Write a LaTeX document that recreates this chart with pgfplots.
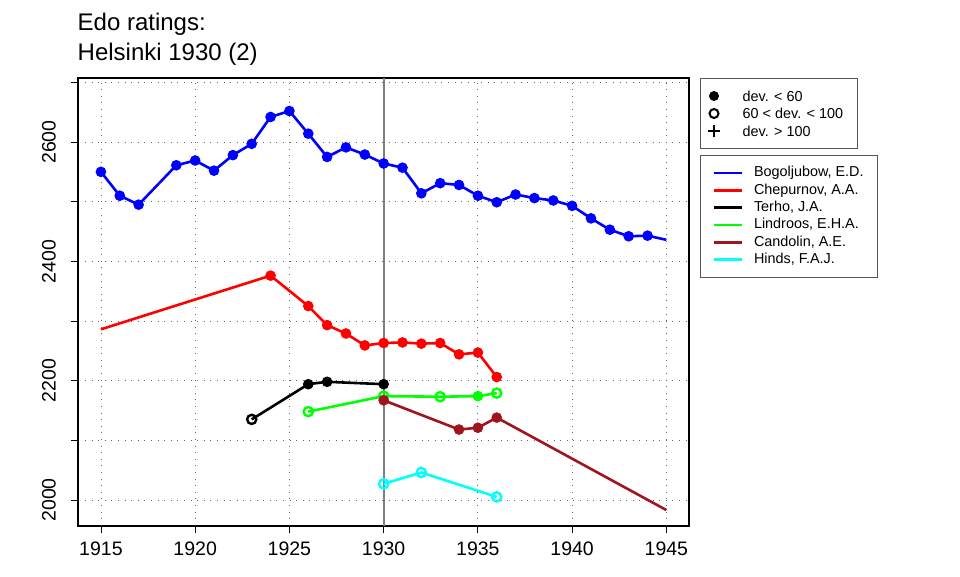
\documentclass[border=0pt]{standalone}
\usepackage{fontspec}
\setmainfont{Liberation Sans}
\usepackage{pgfplots}
\pgfplotsset{compat=1.18}
\definecolor{candolin}{RGB}{160,20,30}
\definecolor{legframe}{RGB}{85,85,85}
\definecolor{pblue}{RGB}{0,0,255}
\definecolor{pred}{RGB}{255,0,0}
\definecolor{pgreen}{RGB}{0,255,0}
\definecolor{pcyan}{RGB}{0,255,255}
\pgfplotsset{
  fullmark/.style={only marks, mark=*, mark size=4.7pt, forget plot, mark options={line width=1.2pt}},
  ringmark/.style={only marks, mark=o, mark size=4.6pt, line width=2.4pt, forget plot, mark options={solid, line width=2.4pt}},
}
\begin{document}
\begin{tikzpicture}
\useasboundingbox (0pt,0pt) rectangle (960pt,576pt);
\begin{axis}[
  at={(78.3pt,50.2pt)}, anchor=south west,
  scale only axis, width=610.7pt, height=447.6pt,
  xmin=1913.8, xmax=1946.2, ymin=1956.6, ymax=2707,
  xtick={1915,1920,1925,1930,1935,1940,1945},
  xticklabels={1915,1920,1925,1930,1935,1940,1945},
  ytick={2000,2100,2200,2300,2400,2500,2600,2700},
  yticklabels={2000,,2200,,2400,,2600,},
  ticklabel style={font=\fontsize{19.5}{22}\selectfont},
  yticklabel style={rotate=90, anchor=south},
  xticklabel shift=6pt,
  yticklabel shift=12pt,
  tick align=outside, tick pos=left, major tick length=7pt,
  axis line style={line width=2pt},
  every tick/.style={black, line width=0.8pt},
  grid=major,
  major grid style={black!60, dash pattern=on 1pt off 5.6pt, line width=0.8pt},
  legend cell align=left,
  legend image code/.code={\draw[#1, line width=2.6pt] (0pt,0pt) -- (28pt,0pt);},
  legend style={at={(1.018,0.8284)}, anchor=north west, draw=legframe, line width=0.8pt,
    font=\fontsize{14.4}{17}\selectfont, inner xsep=12pt, inner ysep=9pt, row sep=0pt,
    nodes={text height=10.5pt, text depth=3pt, inner ysep=1.9pt},
    /tikz/every odd column/.append style={column sep=9pt}},
  every axis plot/.append style={line width=2.6pt},
]
% vertical marker line at 1930
\addplot[gray, line width=2pt, forget plot] coordinates {(1930,1900) (1930,2800)};

% Bogoljubow
\addplot[pblue] coordinates {
(1915,2550) (1916,2510) (1917,2495) (1919,2561) (1920,2569) (1921,2552) (1922,2578)
(1923,2597) (1924,2642) (1925,2652) (1926,2614) (1927,2575) (1928,2591) (1929,2579)
(1930,2564) (1931,2557) (1932,2514) (1933,2531) (1934,2528) (1935,2510) (1936,2499)
(1937,2512) (1938,2506) (1939,2502) (1940,2493) (1941,2472) (1942,2453) (1943,2442)
(1944,2443) (1945,2436)};
\addlegendentry{Bogoljubow, E.D.}
\addplot[pblue, fullmark] coordinates {
(1915,2550) (1916,2510) (1917,2495) (1919,2561) (1920,2569) (1921,2552) (1922,2578)
(1923,2597) (1924,2642) (1925,2652) (1926,2614) (1927,2575) (1928,2591) (1929,2579)
(1930,2564) (1931,2557) (1932,2514) (1933,2531) (1934,2528) (1935,2510) (1936,2499)
(1937,2512) (1938,2506) (1939,2502) (1940,2493) (1941,2472) (1942,2453) (1943,2442)
(1944,2443)};

% Chepurnov
\addplot[pred] coordinates {
(1915,2286) (1924,2376) (1926,2325) (1927,2293) (1928,2279) (1929,2259) (1930,2263)
(1931,2264) (1932,2262) (1933,2263) (1934,2244) (1935,2247) (1936,2206)};
\addlegendentry{Chepurnov, A.A.}
\addplot[pred, fullmark] coordinates {
(1924,2376) (1926,2325) (1927,2293) (1928,2279) (1929,2259) (1930,2263)
(1931,2264) (1932,2262) (1933,2263) (1934,2244) (1935,2247) (1936,2206)};

% Terho
\addplot[black] coordinates {
(1923,2135) (1926,2194) (1927,2198) (1930,2194)};
\addlegendentry{Terho, J.A.}
\addplot[black, fullmark] coordinates {
(1926,2194) (1927,2198) (1930,2194)};
\addplot[black, ringmark] coordinates {
(1923,2135)};

% Lindroos
\addplot[pgreen] coordinates {
(1926,2148) (1930,2174) (1933,2173) (1935,2174) (1936,2179)};
\addlegendentry{Lindroos, E.H.A.}
\addplot[pgreen, fullmark] coordinates {
(1935,2174)};
\addplot[pgreen, ringmark] coordinates {
(1926,2148) (1930,2174) (1933,2173) (1936,2179)};

% Candolin
\addplot[candolin] coordinates {
(1930,2167) (1934,2118) (1935,2121) (1936,2138) (1945,1983)};
\addlegendentry{Candolin, A.E.}
\addplot[candolin, fullmark] coordinates {
(1930,2167) (1934,2118) (1935,2121) (1936,2138)};

% Hinds
\addplot[pcyan] coordinates {
(1930,2027) (1932,2046) (1936,2005)};
\addlegendentry{Hinds, F.A.J.}
\addplot[pcyan, ringmark] coordinates {
(1930,2027) (1932,2046) (1936,2005)};
\end{axis}

% title
\node[anchor=base west, inner sep=0pt, font=\fontsize{24}{28}\selectfont] at (77.5pt,545.3pt) {Edo ratings:};
\node[anchor=base west, inner sep=0pt, font=\fontsize{24}{28}\selectfont] at (77.5pt,515pt) {Helsinki 1930 (2)};

% deviation legend
\draw[legframe, line width=0.8pt] (700pt,498pt) rectangle (857pt,428pt);
\node[circle, fill=black, inner sep=0pt, minimum size=10pt] at (714pt,480pt) {};
\node[circle, draw=black, line width=2pt, inner sep=0pt, minimum size=9pt] at (714pt,462.5pt) {};
\draw[black, line width=2pt] (708pt,444.5pt) -- (720pt,444.5pt) (714pt,438.5pt) -- (714pt,450.5pt);
\node[anchor=west, inner sep=0pt, font=\fontsize{14.4}{17}\selectfont] at (742.5pt,480pt) {dev. < 60};
\node[anchor=west, inner sep=0pt, font=\fontsize{14.4}{17}\selectfont] at (742.5pt,462.5pt) {60 < dev. < 100};
\node[anchor=west, inner sep=0pt, font=\fontsize{14.4}{17}\selectfont] at (742.5pt,444.5pt) {dev. > 100};
\end{tikzpicture}
\end{document}
